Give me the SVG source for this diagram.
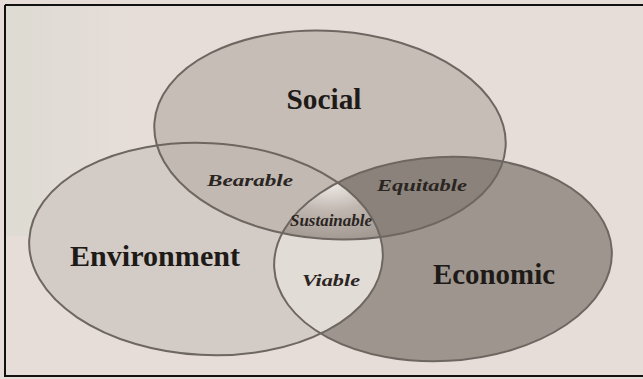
<svg xmlns="http://www.w3.org/2000/svg" width="643" height="379" viewBox="0 0 643 379">
<style>
.lbl{font-family:"Liberation Serif","Times New Roman",serif;font-weight:bold;fill:#1e1a18;text-anchor:middle}
.big{font-size:30px}
.sm{font-size:17px;font-style:italic;fill:#2a2522}
.edge{fill:none;stroke:#6e6660;stroke-width:2}
</style>
<defs>
<clipPath id="cS"><ellipse cx="330" cy="135" rx="176" ry="104" transform="rotate(4 330 135)"/></clipPath>
<clipPath id="cE"><ellipse cx="206" cy="249" rx="177" ry="106" transform="rotate(3 206 249)"/></clipPath>
<clipPath id="cC"><ellipse cx="443" cy="259" rx="169" ry="102" transform="rotate(-3 443 259)"/></clipPath>
<radialGradient id="glow" cx="0.5" cy="0.15" r="0.8">
<stop offset="0" stop-color="#f2eeea"/>
<stop offset="0.45" stop-color="#c0b7b0"/>
<stop offset="1" stop-color="#9d948d"/>
</radialGradient>
<linearGradient id="bgL" x1="0" y1="0" x2="1" y2="0">
<stop offset="0" stop-color="#dcdbd2" stop-opacity="0.9"/>
<stop offset="1" stop-color="#dcdbd2" stop-opacity="0"/>
</linearGradient>
</defs>
<rect x="0" y="0" width="643" height="379" fill="#e6ddd8"/>
<rect x="6" y="6" width="120" height="230" fill="url(#bgL)"/>
<g id="environment">
<ellipse cx="206" cy="249" rx="177" ry="106" transform="rotate(3 206 249)" fill="#d3cbc5"/>
</g>
<g id="social">
<ellipse cx="330" cy="135" rx="176" ry="104" transform="rotate(4 330 135)" fill="#c6bdb6"/>
</g>
<g id="economic">
<ellipse cx="443" cy="259" rx="169" ry="102" transform="rotate(-3 443 259)" fill="#9e968e"/>
</g>
<g id="bearable" clip-path="url(#cE)">
<rect x="0" y="0" width="643" height="379" fill="#c1b9b2" clip-path="url(#cS)"/>
</g>
<g id="equitable" clip-path="url(#cS)">
<rect x="0" y="0" width="643" height="379" fill="#8b837b" clip-path="url(#cC)"/>
</g>
<g id="viable" clip-path="url(#cE)">
<rect x="0" y="0" width="643" height="379" fill="#e2dcd7" clip-path="url(#cC)"/>
</g>
<g id="sustainable" clip-path="url(#cE)">
<g clip-path="url(#cS)">
<rect x="260" y="170" width="140" height="80" fill="url(#glow)" clip-path="url(#cC)"/>
</g>
</g>
<g id="outlines">
<ellipse class="edge" cx="206" cy="249" rx="177" ry="106" transform="rotate(3 206 249)" stroke="#8a817a"/>
<ellipse class="edge" cx="330" cy="135" rx="176" ry="104" transform="rotate(4 330 135)" stroke="#6a625c"/>
<ellipse class="edge" cx="443" cy="259" rx="169" ry="102" transform="rotate(-3 443 259)" stroke="#3d3632" stroke-width="2.5"/>
</g>
<g id="labels">
<text class="lbl big" x="324" y="109" textLength="75" lengthAdjust="spacingAndGlyphs">Social</text>
<text class="lbl big" x="155" y="266" textLength="170" lengthAdjust="spacingAndGlyphs">Environment</text>
<text class="lbl big" x="494" y="284" textLength="122" lengthAdjust="spacingAndGlyphs">Economic</text>
<text class="lbl sm" x="250" y="186" textLength="86" lengthAdjust="spacingAndGlyphs">Bearable</text>
<text class="lbl sm" x="422" y="191" textLength="90" lengthAdjust="spacingAndGlyphs">Equitable</text>
<text class="lbl sm" x="331" y="226" textLength="82" lengthAdjust="spacingAndGlyphs">Sustainable</text>
<text class="lbl sm" x="331" y="286" textLength="58" lengthAdjust="spacingAndGlyphs">Viable</text>
</g>
<path d="M5 5 H643 M5 5 V376 H643" fill="none" stroke="#111" stroke-width="2"/>
</svg>
